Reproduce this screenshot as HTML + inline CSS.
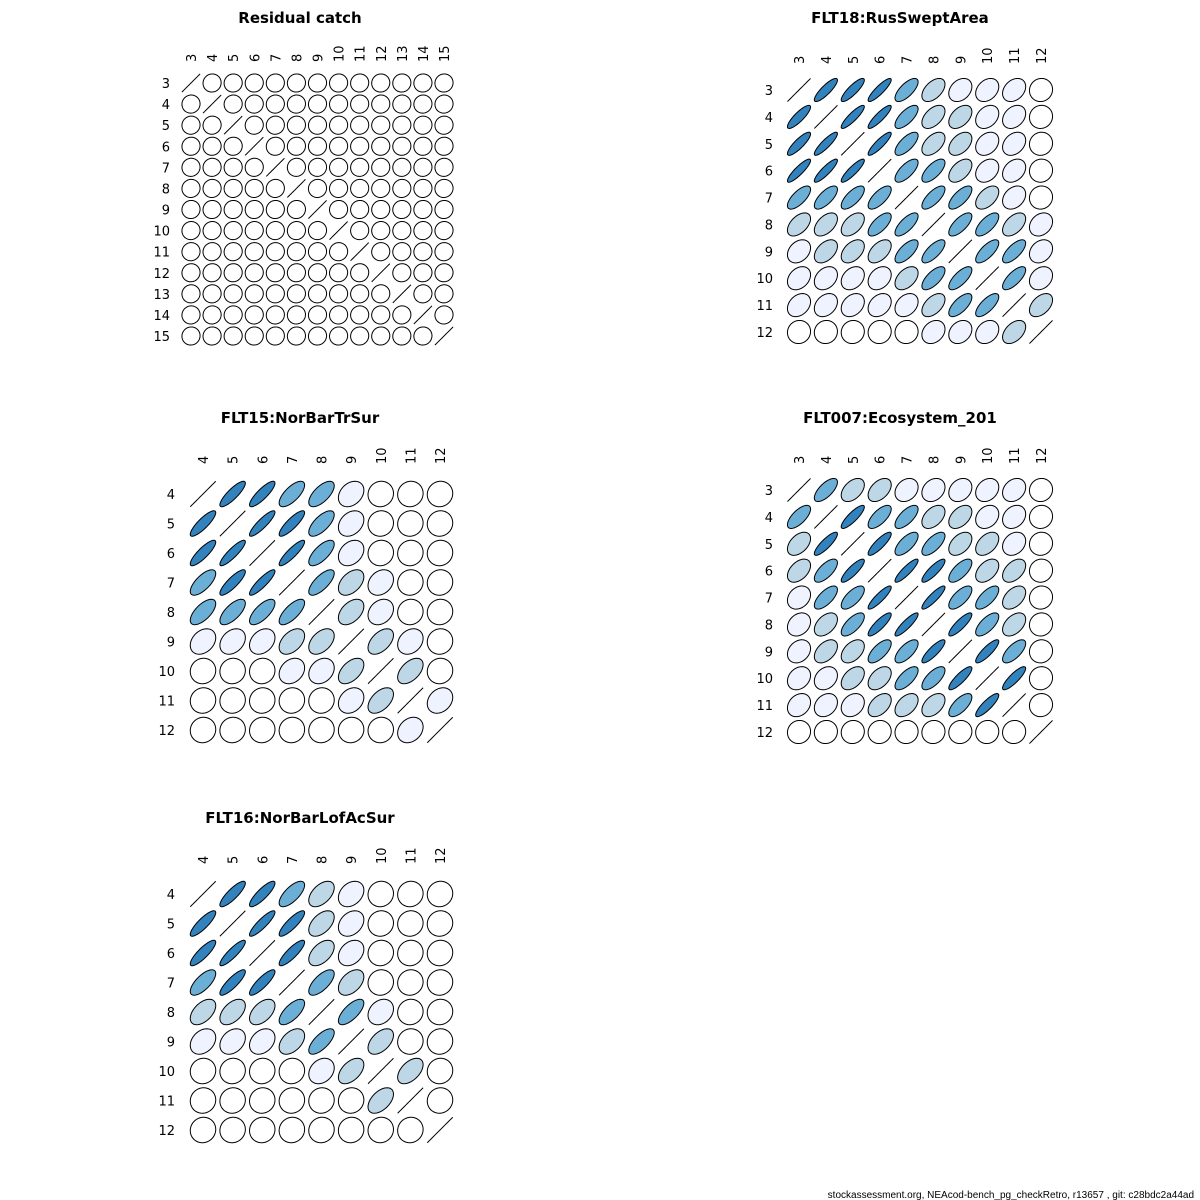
<!DOCTYPE html>
<html><head><meta charset="utf-8"><style>
html,body{margin:0;padding:0;background:#fff;}
svg{display:block;font-family:"DejaVu Sans","Liberation Sans",sans-serif;}
</style></head><body>
<svg id="chart" width="1200" height="1200" viewBox="0 0 1200 1200">
<text x="1194" y="1198" text-anchor="end" font-size="10" font-family="Liberation Sans, sans-serif">stockassessment.org, NEAcod-bench_pg_checkRetro, r13657 , git: c28bdc2a44ad</text>
</svg>
<script>
// ---- data (correlations; diagonal = 1) ----
const agesResidual = [3,4,5,6,7,8,9,10,11,12,13,14,15];
const agesRus = [3,4,5,6,7,8,9,10,11,12];
const agesFlt15 = [4,5,6,7,8,9,10,11,12];
const agesEco = [3,4,5,6,7,8,9,10,11,12];
const agesFlt16 = [4,5,6,7,8,9,10,11,12];

const corrResidual = agesResidual.map((a,i)=>agesResidual.map((b,j)=> i===j?1:0.03));
const corrRus = [
[1,.85,.85,.88,.7,.5,.3,.3,.3,.05],
[.85,1,.88,.88,.7,.5,.45,.3,.3,.05],
[.85,.88,1,.88,.7,.5,.45,.3,.3,.05],
[.88,.88,.88,1,.7,.68,.5,.3,.3,.05],
[.7,.7,.7,.7,1,.72,.7,.5,.3,.05],
[.5,.5,.5,.68,.72,1,.7,.68,.5,.25],
[.3,.45,.45,.5,.68,.72,1,.72,.7,.25],
[.3,.3,.3,.3,.45,.68,.72,1,.72,.25],
[.3,.3,.3,.3,.3,.5,.68,.72,1,.45],
[.05,.05,.05,.05,.05,.25,.25,.25,.45,1]];
const corrFlt15 = [
[1,.85,.85,.7,.65,.3,.05,.05,.05],
[.85,1,.88,.85,.68,.3,.05,.05,.05],
[.85,.88,1,.88,.7,.3,.05,.05,.05],
[.7,.85,.88,1,.72,.45,.25,.05,.05],
[.65,.68,.7,.72,1,.45,.25,.05,.05],
[.3,.3,.3,.45,.45,1,.5,.25,.05],
[.05,.05,.05,.25,.25,.5,1,.5,.05],
[.05,.05,.05,.05,.05,.25,.5,1,.25],
[.05,.05,.05,.05,.05,.05,.05,.25,1]];
const corrEco = [
[1,.68,.45,.45,.25,.25,.25,.25,.25,.05],
[.68,1,.85,.68,.68,.45,.45,.25,.25,.05],
[.45,.85,1,.85,.68,.68,.45,.45,.25,.05],
[.45,.68,.85,1,.88,.85,.68,.45,.45,.05],
[.25,.68,.68,.88,1,.88,.68,.68,.45,.05],
[.25,.45,.68,.85,.88,1,.85,.68,.45,.05],
[.25,.45,.45,.68,.68,.85,1,.85,.68,.05],
[.25,.25,.45,.45,.68,.68,.85,1,.85,.05],
[.25,.25,.25,.45,.45,.45,.68,.85,1,.05],
[.05,.05,.05,.05,.05,.05,.05,.05,.05,1]];
const corrFlt16 = [
[1,.85,.85,.7,.5,.3,.05,.05,.05],
[.85,1,.88,.85,.5,.3,.05,.05,.05],
[.85,.88,1,.85,.5,.3,.05,.05,.05],
[.7,.85,.85,1,.68,.45,.05,.05,.05],
[.5,.5,.5,.68,1,.7,.25,.05,.05],
[.3,.3,.3,.45,.7,1,.5,.05,.05],
[.05,.05,.05,.05,.25,.5,1,.5,.05],
[.05,.05,.05,.05,.05,.05,.5,1,.05],
[.05,.05,.05,.05,.05,.05,.05,.05,1]];

const panels = [
 {title:"Residual catch", ages:agesResidual, corr:corrResidual, x0:191, x1:444, y0:83, y1:336, tx:300, ty:23, colY:62, rowX:170},
 {title:"FLT18:RusSweptArea", ages:agesRus, corr:corrRus, x0:799, x1:1041, y0:90, y1:332, tx:900, ty:23, colY:64, rowX:773},
 {title:"FLT15:NorBarTrSur", ages:agesFlt15, corr:corrFlt15, x0:203, x1:440, y0:494, y1:730, tx:300, ty:423, colY:464, rowX:175},
 {title:"FLT007:Ecosystem_201", ages:agesEco, corr:corrEco, x0:799, x1:1041, y0:490, y1:732, tx:900, ty:423, colY:464, rowX:773},
 {title:"FLT16:NorBarLofAcSur", ages:agesFlt16, corr:corrFlt16, x0:203, x1:440, y0:894, y1:1130, tx:300, ty:823, colY:864, rowX:175}
];

const NS="http://www.w3.org/2000/svg";
const svg=document.getElementById('chart');
function colorFor(r){
  if(r>=0.8) return "#3182bd";
  if(r>=0.6) return "#6baed6";
  if(r>=0.4) return "#bdd7e7";
  if(r>=0.2) return "#eff3ff";
  return "#ffffff";
}
panels.forEach((p,pi)=>{
  const n=p.ages.length;
  const step=(p.x1-p.x0)/(n-1);
  const stepY=(p.y1-p.y0)/(n-1);
  const xs=i=>p.x0+i*step;
  const ys=i=>p.y0+i*stepY;
  const s=0.43*step;
  const g=document.createElementNS(NS,'g');
  
  
  svg.appendChild(g);
  const t=document.createElementNS(NS,'text');
  
  
  t.setAttribute('x',p.tx);t.setAttribute('y',p.ty);
  t.setAttribute('text-anchor','middle');t.setAttribute('font-weight','bold');t.setAttribute('font-size','15');
  t.textContent=p.title;g.appendChild(t);
  p.ages.forEach((a,i)=>{
    const c=document.createElementNS(NS,'text');
    
    
    c.setAttribute('font-size','13');
    c.setAttribute('transform',`translate(${xs(i)+5},${p.colY}) rotate(-90)`);
    c.textContent=a;g.appendChild(c);
    const r=document.createElementNS(NS,'text');
    
    
    r.setAttribute('font-size','13');r.setAttribute('text-anchor','end');
    r.setAttribute('x',p.rowX);r.setAttribute('y',ys(i)+5);
    r.textContent=a;g.appendChild(r);
  });
  for(let i=0;i<n;i++)for(let j=0;j<n;j++){
    const rv=p.corr[i][j];
    const cx=xs(j),cy=ys(i);
    const d=Math.acos(Math.max(-1,Math.min(1,rv)));
    let pts=[];
    for(let k=0;k<=60;k++){
      const th=k/60*2*Math.PI;
      pts.push((cx+s*Math.cos(th+d/2)).toFixed(2)+','+(cy-s*Math.cos(th-d/2)).toFixed(2));
    }
    const e=document.createElementNS(NS,'polygon');
    
    
    e.setAttribute('points',pts.join(' '));
    e.setAttribute('fill',colorFor(rv));
    e.setAttribute('stroke','#000');e.setAttribute('stroke-width','1');
    g.appendChild(e);
  }
});
</script>
</body></html>
